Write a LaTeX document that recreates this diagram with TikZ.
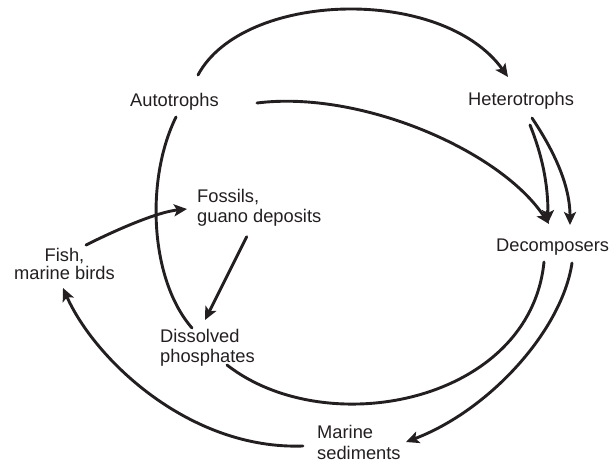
\documentclass[tikz,border=0pt]{standalone}
\usepackage{fontspec}
\setmainfont{Liberation Sans}
\usetikzlibrary{arrows.meta}
\definecolor{ink}{HTML}{231F20}
\tikzset{
  lbl/.style={inner sep=0pt, text=ink, font=\fontsize{18.3}{20}\selectfont},
  flow/.style={draw=ink, line width=2.9pt, line cap=round},
  arr/.style={flow, -{Stealth[length=13pt,width=12pt,inset=3pt]}}
}
\begin{document}
\begin{tikzpicture}[x=1pt,y=-1pt]
\useasboundingbox (0,0) rectangle (613,463);

% compartments
\node[lbl, anchor=base west] (auto) at (130,106) {Autotrophs};
\node[lbl, anchor=base west] (het)  at (468,105.5) {Heterotrophs};
\node[lbl, anchor=base west] (dec)  at (496,251) {Decomposers};
\node[lbl, anchor=base west] (fos)  at (197,202.7)
  {\begin{tabular}[t]{@{}l@{}}Fossils,\\guano deposits\end{tabular}};
\node[lbl, anchor=base] (fish) at (64.5,261)
  {\renewcommand\arraystretch{0.93}\begin{tabular}[t]{@{}c@{}}Fish,\\marine birds\end{tabular}};
\node[lbl, anchor=base west] (dis) at (160,342.3)
  {\begin{tabular}[t]{@{}l@{}}Dissolved\\phosphates\end{tabular}};
\node[lbl, anchor=base west] (mar) at (317,438.3)
  {\renewcommand\arraystretch{1.05}\begin{tabular}[t]{@{}l@{}}Marine\\sediments\end{tabular}};

% autotrophs -> heterotrophs
\draw[arr] ([shift={(68,-31)}]auto.base west)
  .. controls +(45,-84) and +(-66,-92) .. ([shift={(40,-28.5)}]het.base west);
% autotrophs -> decomposers
\draw[arr] ([shift={(127,-3)}]auto.base west)
  .. controls +(103,-13) and +(-49,-74) .. ([shift={(53,-27)}]dec.base west);
% heterotrophs -> decomposers (two paths)
\draw[arr] ([shift={(62,19.5)}]het.base west)
  .. controls +(12,30) and +(0,-40) .. ([shift={(52,-28)}]dec.base west);
\draw[arr] ([shift={(64,12.5)}]het.base west)
  .. controls +(16,24) and +(0,-45) .. ([shift={(74,-26)}]dec.base west);
% decomposers -> marine sediments
\draw[arr] ([shift={(76,12)}]dec.base west)
  .. controls +(-10,67) and +(84,-32) .. ([shift={(89,3.7)}]mar.base west);
% decomposers -- dissolved phosphates
\draw[flow] ([shift={(48,11)}]dec.base west)
  .. controls +(-14,140) and +(100,78) .. ([shift={(67,22.7)}]dis.base west);
% marine sediments -> fish, marine birds
\draw[arr] ([shift={(-14,7.7)}]mar.base west)
  .. controls +(-113,4) and +(32,72) .. ([shift={(-1.5,27)}]fish.base);
% fish, marine birds -> fossils
\draw[arr] ([shift={(21.5,-16)}]fish.base)
  .. controls +(30,-15) and +(-30,3) .. ([shift={(-10,6.3)}]fos.base west);
% fossils -> dissolved phosphates
\draw[arr] ([shift={(49.7,34)}]fos.base west) -- ([shift={(45,-22.3)}]dis.base west);
% autotrophs -- dissolved phosphates
\draw[flow] ([shift={(46,11)}]auto.base west)
  .. controls +(-31,63) and +(-42,-48) .. ([shift={(32,-14.3)}]dis.base west);
\end{tikzpicture}
\end{document}
